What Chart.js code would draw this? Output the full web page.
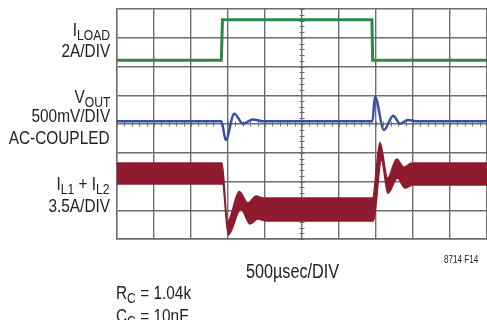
<!DOCTYPE html>
<html>
<head>
<meta charset="utf-8">
<script src="https://cdn.jsdelivr.net/npm/chart.js@4.4.1/dist/chart.umd.min.js"></script>
<style>
  body { margin: 0; background: #fff; }
  #wrap { position: relative; width: 487px; height: 320px; overflow: hidden; }
  #scope { position: absolute; left: 0; top: 0; }
  .lbl { position: absolute; font-family: "Liberation Sans", Arial, sans-serif;
         font-size: 19px; line-height: 19px; color: #222; white-space: nowrap;
         transform: scaleX(0.81); transform-origin: left top; }
  .r { right: 377px; text-align: right; transform-origin: right top; }
  .sub { font-size: 15px; position: relative; top: 4px; }
</style>
</head>
<body>
<div id="wrap">
  <canvas id="scope" width="487" height="320"></canvas>
  <div class="lbl r" style="top:20px">I<span class="sub">LOAD</span></div>
  <div class="lbl r" style="top:41px">2A/DIV</div>
  <div class="lbl r" style="top:87px">V<span class="sub">OUT</span></div>
  <div class="lbl r" style="top:106px">500mV/DIV</div>
  <div class="lbl r" style="top:128px">AC-COUPLED</div>
  <div class="lbl r" style="top:174px">I<span class="sub">L1</span> + I<span class="sub">L2</span></div>
  <div class="lbl r" style="top:196px">3.5A/DIV</div>
  <div class="lbl" style="left:246px; top:261px; font-size:20px; line-height:20px">500µsec/DIV</div>
  <div class="lbl r" style="right:9px; top:255px; font-size:10px; line-height:10px">8714 F14</div>
  <div class="lbl" style="left:116px; top:283px">R<span class="sub">C</span> = 1.04k</div>
  <div class="lbl" style="left:116px; top:306px">C<span class="sub">C</span> = 10nF</div>
</div>
<script>
// time in usec, trace levels in graticule divisions (0 = bottom line, 8 = top line)
var loadTime = [0, 1410, 1425, 3445, 3455, 5000]
var loadDiv  = [6.22, 6.22, 7.63, 7.63, 6.22, 6.22]

var voutTime = [0, 1412, 1469, 1585, 1702, 1837, 1959, 3452, 3486, 3607, 3733, 3824, 3932, 4040, 5000]
var voutDiv  = [4.10, 4.10, 3.44, 4.36, 4.01, 4.16, 4.10, 4.10, 4.95, 3.79, 4.29, 4.01, 4.14, 4.10, 4.10]

// inductor current is a thick ripple band: upper and lower envelope
var ilUpTime  = [0, 1419, 1493, 1652, 1770, 1878, 1972, 3452, 3553, 3657, 3779, 3877, 3986, 5000]
var ilUp      = [2.64, 2.64, 0.59, 1.65, 1.25, 1.50, 1.43, 1.43, 3.36, 2.12, 2.78, 2.50, 2.64, 2.64]
var ilLowTime = [0, 1425, 1504, 1675, 1797, 1905, 2000, 3465, 3573, 3661, 3790, 3891, 4000, 5000]
var ilLow     = [1.91, 1.91, 0.14, 1.04, 0.52, 0.70, 0.63, 0.63, 2.75, 1.59, 2.12, 1.77, 1.88, 1.88]

var usecPerDiv = 500
var xDivs = 10
var yDivs = 8

function pts(xs, ys) {
  return xs.map(function(x, i) { return { x: x, y: ys[i] } })
}

var gridColor = '#6e6e6e'

// small marks along the centre crosshair, 5 per division
var centerTicks = {
  id: 'centerTicks',
  beforeDatasetsDraw: function(chart) {
    var ctx = chart.ctx, sx = chart.scales.x, sy = chart.scales.y
    var cx = sx.getPixelForValue(usecPerDiv * xDivs / 2)
    var cy = sy.getPixelForValue(yDivs / 2)
    ctx.save()
    ctx.strokeStyle = gridColor
    ctx.lineWidth = 1
    ctx.beginPath()
    for (var t = 0; t <= usecPerDiv * xDivs; t += usecPerDiv / 5) {
      var px = Math.round(sx.getPixelForValue(t)) + 0.5
      ctx.moveTo(px, cy - 2.5); ctx.lineTo(px, cy + 2.5)
    }
    for (var d = 0; d <= yDivs * 5; d++) {
      var py = Math.round(sy.getPixelForValue(d / 5)) + 0.5
      ctx.moveTo(cx - 2.5, py); ctx.lineTo(cx + 2.5, py)
    }
    ctx.stroke()
    ctx.restore()
  }
}

var ctx = document.getElementById('scope').getContext('2d')
var chart = new Chart(ctx, {
  type: 'line',
  data: {
    datasets: [
      { label: 'ILOAD', data: pts(loadTime, loadDiv), borderColor: '#2b8a43', borderWidth: 3, pointRadius: 0, fill: false },
      { label: 'VOUT', data: pts(voutTime, voutDiv), borderColor: '#3451a6', borderWidth: 2.5, pointRadius: 0,
        cubicInterpolationMode: 'monotone', fill: false },
      { label: 'IL upper', data: pts(ilUpTime, ilUp), borderColor: '#8e1b2e', borderWidth: 1.5, pointRadius: 0,
        cubicInterpolationMode: 'monotone', fill: false },
      { label: 'IL lower', data: pts(ilLowTime, ilLow), borderColor: '#8e1b2e', borderWidth: 1.5, pointRadius: 0,
        cubicInterpolationMode: 'monotone', fill: '-1', backgroundColor: '#8e1b2e' }
    ]
  },
  options: {
    responsive: false,
    animation: false,
    devicePixelRatio: 1,
    layout: { padding: { left: 117, top: 9, right: 0, bottom: 81 } },
    plugins: { legend: { display: false }, tooltip: { enabled: false } },
    scales: {
      x: {
        type: 'linear', min: 0, max: usecPerDiv * xDivs,
        ticks: { display: false, stepSize: usecPerDiv },
        grid: { color: gridColor, lineWidth: 1.4, drawTicks: false },
        border: { color: gridColor, width: 1.4 }
      },
      y: {
        min: 0, max: yDivs,
        ticks: { display: false, stepSize: 1 },
        grid: { color: gridColor, lineWidth: 1.4, drawTicks: false },
        border: { color: gridColor, width: 1.4 }
      }
    }
  },
  plugins: [centerTicks]
})
</script>
</body>
</html>
